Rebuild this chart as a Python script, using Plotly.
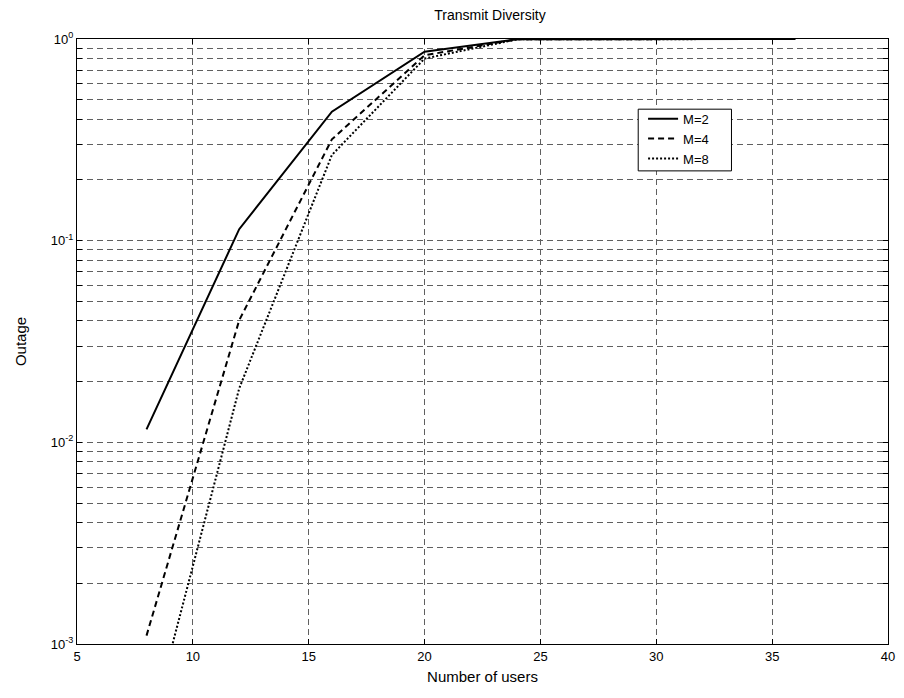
import plotly.graph_objects as go

# Outage probability vs. number of users for several antenna counts
users = [8, 12, 16, 20, 24, 28, 32, 36]
outage_m2 = [0.0116, 0.114, 0.436, 0.865, 0.998, 1.0, 1.0, 1.0]
outage_m4 = [0.0011, 0.0403, 0.318, 0.83, 0.997, 1.0, 1.0, 1.0]
outage_m8 = [0.00032, 0.0185, 0.266, 0.80, 0.996, 1.0, 1.0, 1.0]

series_names = ["M=2", "M=4", "M=8"]
series_dash = ["solid", "6px,4px", "2px,2px"]

x_ticks = [5, 10, 15, 20, 25, 30, 35, 40]
decades = [-3, -2, -1, 0]

# log-axis ticks: every 1..9 multiple per decade, labels only at decades
y_tickvals, y_ticktext = [], []
for d in decades:
    for m in range(1, 10):
        if d == 0 and m > 1:
            break
        y_tickvals.append(m * 10.0 ** d)
        y_ticktext.append(f"10<sup>{d}</sup>" if m == 1 else "")

font_family = "Liberation Sans, Arial, sans-serif"

fig = go.Figure()
for name, vals, dash in zip(series_names, [outage_m2, outage_m4, outage_m8], series_dash):
    fig.add_trace(go.Scatter(
        x=users, y=vals, mode="lines", name=name,
        line=dict(color="black", width=2, dash=dash),
    ))

axis_common = dict(
    showline=True, linecolor="black", linewidth=1, mirror="ticks",
    ticks="inside", ticklen=5, tickcolor="black",
    showgrid=True, gridcolor="#606060", gridwidth=1, griddash="6px,4px",
    zeroline=False,
    tickfont=dict(family=font_family, size=13, color="black"),
)

# legend frame (drawn as a box so its width can be set)
legend_box = dict(x0=0.692, x1=0.807, y0=0.782, y1=0.884)

fig.add_shape(type="rect", xref="paper", yref="paper", layer="above",
              line=dict(color="black", width=1), fillcolor="white", **legend_box)

fig.update_layout(
    width=904, height=698,
    margin=dict(l=77, r=9, t=39, b=54),
    paper_bgcolor="white", plot_bgcolor="white",
    font=dict(family=font_family, size=13, color="black"),
    title=dict(text="Transmit Diversity", x=(77 + 413) / 904, xanchor="center",
               y=1 - 15 / 698, yanchor="middle",
               font=dict(family=font_family, size=14, color="black")),
    xaxis=dict(range=[5, 40], tickvals=x_ticks, ticktext=[str(v) for v in x_ticks],
               title=dict(text="Number of users", standoff=8,
                          font=dict(family=font_family, size=15)),
               **axis_common),
    yaxis=dict(type="log", range=[-3, 0], tickvals=y_tickvals, ticktext=y_ticktext,
               title=dict(text="Outage", standoff=20,
                          font=dict(family=font_family, size=15)),
               **axis_common),
    legend=dict(x=legend_box["x0"] + 0.006, y=legend_box["y1"] + 0.009,
                xanchor="left", yanchor="top",
                borderwidth=0, bgcolor="rgba(0,0,0,0)",
                font=dict(family=font_family, size=13), tracegroupgap=0,
                itemwidth=30),
    showlegend=True,
)

fig.write_html("out.html")
